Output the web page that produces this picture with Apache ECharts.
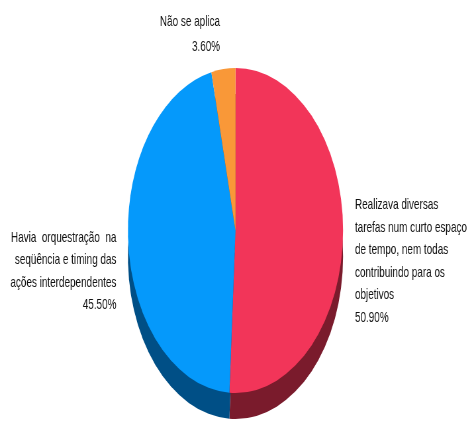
<!DOCTYPE html>
<html>
<head>
<meta charset="utf-8">
<script src="https://cdn.jsdelivr.net/npm/echarts@6/dist/echarts.min.js"></script>
<style>
  html, body { margin: 0; padding: 0; width: 467px; height: 422px; overflow: hidden; background: #fff; }
  /* the chart is laid out wide and then squeezed horizontally, giving the oval pie and narrow type */
  #chart { width: 760px; height: 422px; transform: scaleX(0.662); transform-origin: 0 0; }
</style>
</head>
<body>
<div id="chart"></div>
<script>
// Answers and their shares (%)
const categories = [
  'Realizava diversas\ntarefas num curto espaço\nde tempo, nem todas\ncontribuindo para os\nobjetivos',
  'Havia  orquestração  na\nseqüência e timing das\nações interdependentes',
  'Não se aplica'
];
const values = [50.9, 45.5, 3.6];

// Face colours and the darker tones used for the side wall
const faceColors = ['#F23559', '#0599FB', '#F99838'];
const sideColors = ['#7A1B2C', '#004F86', '#7C4A1A'];

// Per-slice label placement along the pie's label lines
const lineLength = [10, 10, 61.5];
const lineLength2 = [3, 3, 0];
const labelGap = [5, 5, -2];
const labelLineHeight = [22.5, 22.5, 25];
const labelPadding = [[0, 0, 8, 0], [0, 0, 0, 0], [0, 0, 0, 0]];

const center = [355.7, 230.5];
const depth = 26;
const radius = 162.5;

const sideData = categories.map((name, i) => ({
  name,
  value: values[i],
  itemStyle: { color: sideColors[i] },
  labelLine: { show: false, length: lineLength[i], length2: lineLength2[i] },
  label: {
    distanceToLabelLine: labelGap[i],
    lineHeight: labelLineHeight[i],
    padding: labelPadding[i]
  }
}));

const faceData = categories.map((name, i) => ({
  name,
  value: values[i],
  itemStyle: { color: faceColors[i] }
}));

const chart = echarts.init(document.getElementById('chart'), null, { renderer: 'canvas' });
chart.setOption({
  animation: false,
  backgroundColor: '#ffffff',
  series: [
    {
      // side wall: same pie shifted down, carrying the labels
      type: 'pie',
      z: 1,
      center: [center[0], center[1] + depth],
      radius: radius,
      startAngle: 90,
      clockwise: true,
      avoidLabelOverlap: false,
      silent: true,
      data: sideData,
      label: {
        show: true,
        position: 'outside',
        fontFamily: '"Liberation Sans", Arial, sans-serif',
        fontSize: 15,
        color: '#111111',
        overflow: 'none',
        formatter: (p) => p.name + '\n' + p.value.toFixed(2) + '%'
      },
      labelLine: { show: false },
      itemStyle: { borderWidth: 0 },
      emphasis: { disabled: true }
    },
    {
      // top face
      type: 'pie',
      z: 2,
      center: center,
      radius: radius,
      startAngle: 90,
      clockwise: true,
      silent: true,
      data: faceData,
      label: { show: false },
      labelLine: { show: false },
      itemStyle: { borderWidth: 0 },
      emphasis: { disabled: true }
    }
  ]
});
</script>
</body>
</html>
